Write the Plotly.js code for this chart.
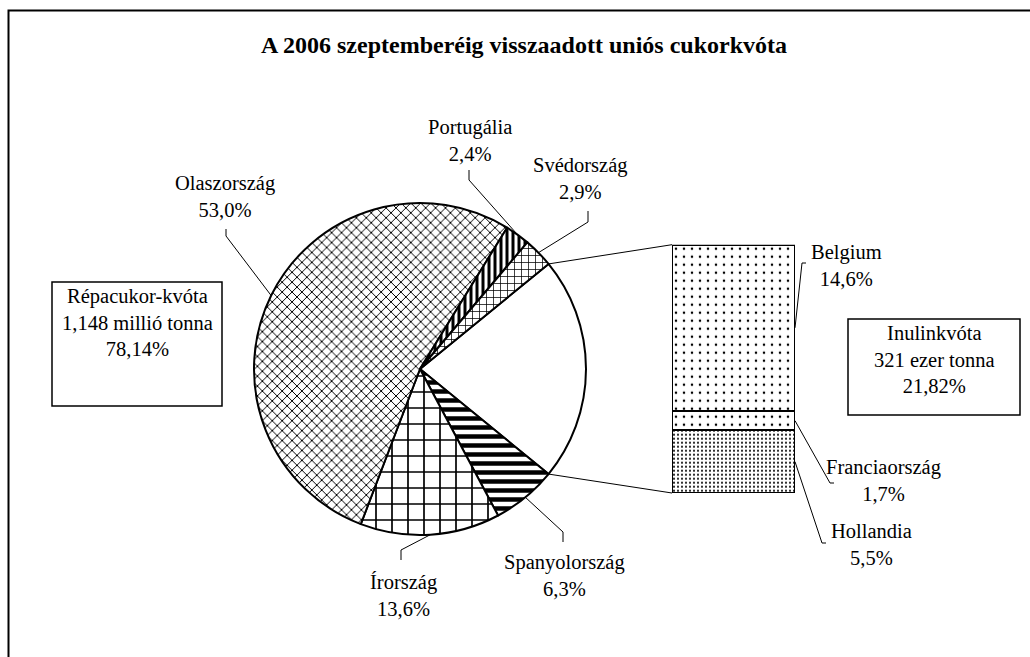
<!DOCTYPE html>
<html><head><meta charset="utf-8">
<script src="https://cdn.plot.ly/plotly-3.0.1.min.js"></script>
<style>html,body{margin:0;padding:0;background:#fff}</style>
</head><body><div id="chart" style="width:1030px;height:657px"></div>
<script>
// ---------- data ----------
const titleText = "A 2006 szeptemberéig visszaadott uniós cukorkvóta";
const pieLabels = ["Inulinkvóta", "Spanyolország", "Írország", "Olaszország", "Portugália", "Svédország"];
const pieValues = [21.82, 6.3, 13.6, 53.0, 2.4, 2.9];
const barLabels = ["Hollandia", "Franciaország", "Belgium"];
const barValues = [5.5, 1.7, 14.6];
const leftBoxLines = ["Répacukor-kvóta", "1,148 millió tonna", "78,14%"];
const rightBoxLines = ["Inulinkvóta", "321 ezer tonna", "21,82%"];

// ---------- layout geometry (pixels) ----------
const W = 1030, H = 657;
const CX = 420, CY = 369, R = 166;           // pie
const BX0 = 672, BX1 = 795, BY0 = 244.7, BY1 = 493; // bar
const FONT = "Liberation Serif, Times New Roman, serif";
const FS = 20.5;
const X = p => p / W, Y = p => 1 - p / H;

const pieStyle = {
  "Inulinkvóta":   {shape: "",  size: 8,  sol: 0.1},
  "Spanyolország": {shape: "-", size: 9,  sol: 0.5},
  "Írország":      {shape: "+", size: 16, sol: 0.2},
  "Olaszország":   {shape: "x", size: 7,  sol: 0.26},
  "Portugália":    {shape: "|", size: 6,  sol: 0.5},
  "Svédország":    {shape: "+", size: 7,  sol: 0.2}
};
const barStyle = {
  "Hollandia":     {shape: ".", size: 4, sol: 0.22},
  "Franciaország": {shape: ".", size: 8, sol: 0.08},
  "Belgium":       {shape: ".", size: 8, sol: 0.08}
};
// label centre, knee and end of leader (pixels)
const labelPos = {
  "Olaszország":   {c: [225, 196], k: [226, 236], e: [226, 229]},
  "Portugália":    {c: [470, 140], k: [469, 180], e: [469, 170]},
  "Svédország":    {c: [580, 178], k: [588, 222], e: [588, 211]},
  "Spanyolország": {c: [564, 575], k: [563, 532], e: [563, 542]},
  "Írország":      {c: [403, 595], k: [401, 550], e: [401, 560]},
  "Belgium":       {c: [846, 265], k: [802, 263], e: [806, 263]},
  "Franciaország": {c: [883, 480], k: [830, 483], e: [834, 483]},
  "Hollandia":     {c: [871, 544], k: [822, 543], e: [826, 543]}
};

const fmt = v => v.toFixed(1).replace(".", ",") + "%";

// ---------- pie angles ----------
const total = pieValues.reduce((a, b) => a + b, 0);
const rotation = 90 - (pieValues[0] / total * 360) / 2;
const edge = a => { const r = a * Math.PI / 180; return [CX + R * Math.sin(r), CY - R * Math.cos(r)]; };
const mids = []; let cum = 0;
pieValues.forEach(v => { mids.push(rotation + (cum + v / 2) / total * 360); cum += v; });
const inulinEnd = rotation + pieValues[0] / total * 360;

// ---------- bar geometry ----------
const barTotal = barValues.reduce((a, b) => a + b, 0);
const barY = v => BY1 - v / barTotal * (BY1 - BY0);

const traces = [];
traces.push({
  type: "pie", labels: pieLabels, values: pieValues, sort: false, direction: "clockwise",
  rotation: rotation, textinfo: "none", hoverinfo: "label+percent", showlegend: false,
  domain: {x: [X(CX - R), X(CX + R)], y: [Y(CY + R), Y(CY - R)]},
  marker: {
    colors: pieLabels.map(() => "#ffffff"),
    line: {color: "#000", width: 2},
    pattern: {
      shape: pieLabels.map(l => pieStyle[l].shape),
      size: pieLabels.map(l => pieStyle[l].size),
      solidity: pieLabels.map(l => pieStyle[l].sol),
      fgcolor: "#000", bgcolor: "#fff", fgopacity: 1
    }
  }
});
barLabels.forEach((l, i) => {
  traces.push({
    type: "bar", x: [0], y: [barValues[i]], name: l, width: 1, showlegend: false,
    xaxis: "x", yaxis: "y",
    marker: {color: "#fff", line: {color: "#000", width: 2},
      pattern: {shape: barStyle[l].shape, size: barStyle[l].size, solidity: barStyle[l].sol,
                fgcolor: "#000", bgcolor: "#fff", fgopacity: 1}}
  });
});

const shapes = [];
const annotations = [];
const line = (pts, w) => shapes.push({
  type: "path", xref: "paper", yref: "paper",
  path: "M" + pts.map(p => X(p[0]) + "," + Y(p[1])).join(" L"),
  line: {color: "#000", width: w || 1}
});
const label = (txt, cx, cy, anchor) => annotations.push({xref: "paper", yref: "paper", x: X(cx), y: Y(cy),
  xanchor: "center", yanchor: anchor || "middle", text: txt, showarrow: false, align: "center",
  font: {family: FONT, size: FS, color: "#000"}});
// outer frame
shapes.push({type: "rect", xref: "paper", yref: "paper", x0: X(8.5), x1: 1.02, y0: -0.02, y1: Y(10.5),
  line: {color: "#000", width: 2}});
// connectors pie -> bar
line([edge(rotation), [BX0, BY0]]);
line([edge(inulinEnd), [BX0, BY1]]);
// pie labels
pieLabels.forEach((l, i) => {
  const p = labelPos[l]; if (!p) return;
  line([edge(mids[i]), p.k, p.e]);
  label(l + "<br>" + fmt(pieValues[i]), p.c[0], p.c[1]);
});
// bar labels
let acc = 0;
barLabels.forEach((l, i) => {
  const mid = barY(acc + barValues[i] / 2); acc += barValues[i];
  const p = labelPos[l];
  line([[BX1, mid], p.k, p.e]);
  label(l + "<br>" + fmt(barValues[i]), p.c[0], p.c[1]);
});
// boxes
shapes.push({type: "rect", xref: "paper", yref: "paper", x0: X(52), x1: X(222), y0: Y(406), y1: Y(282), line: {color: "#000", width: 1.5}});
label(leftBoxLines.join("<br>"), 137, 283, "top");
shapes.push({type: "rect", xref: "paper", yref: "paper", x0: X(848), x1: X(1020), y0: Y(415), y1: Y(319), line: {color: "#000", width: 1.5}});
label(rightBoxLines.join("<br>"), 934, 320, "top");
// title
annotations.push({xref: "paper", yref: "paper", x: X(524), y: Y(45), xanchor: "center", yanchor: "middle",
  text: "<b>" + titleText + "</b>", showarrow: false, font: {family: FONT, size: 24, color: "#000"}});

const layout = {
  width: W, height: H, margin: {l: 0, r: 0, t: 0, b: 0},
  paper_bgcolor: "#fff", plot_bgcolor: "rgba(0,0,0,0)",
  barmode: "stack", showlegend: false,
  xaxis: {domain: [X(BX0), X(BX1)], range: [-0.5, 0.5], visible: false, fixedrange: true},
  yaxis: {domain: [Y(BY1), Y(BY0)], range: [0, barTotal], visible: false, fixedrange: true},
  shapes: shapes, annotations: annotations, font: {family: FONT}
};
Plotly.newPlot("chart", traces, layout, {displayModeBar: false, staticPlot: true});
</script></body></html>
